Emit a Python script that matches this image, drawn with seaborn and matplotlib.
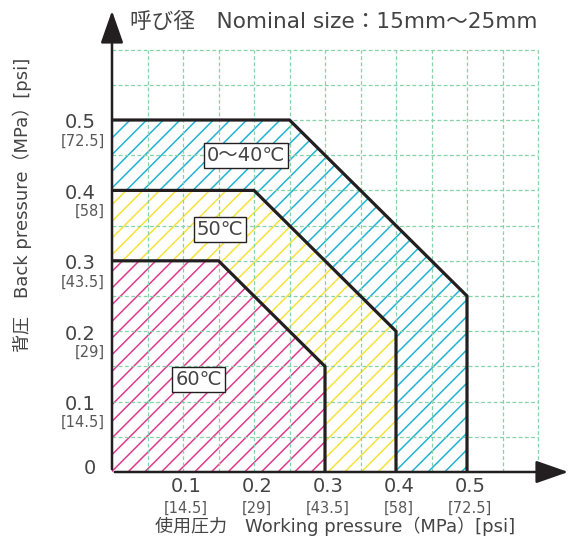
import matplotlib
matplotlib.use("Agg")
import matplotlib.pyplot as plt
import seaborn as sns
import numpy as np
import pandas as pd

# ---- data ----
regions = ["0～40℃", "50℃", "60℃"]
max_back = [0.5, 0.4, 0.3]      # MPa, top edge (back pressure)
knee_work = [0.25, 0.2, 0.15]   # working pressure where top edge ends
knee_back = [0.25, 0.2, 0.15]   # back pressure at right edge top
max_work = [0.5, 0.4, 0.3]      # MPa, right edge (working pressure)
label_x = [0.189, 0.152, 0.122]
label_y = [0.450, 0.345, 0.131]
hatch_colors = ["#22b3d3", "#f6e33a", "#e03a8f"]

tick_vals = [0.1, 0.2, 0.3, 0.4, 0.5]
tick_mpa = ["0.1", "0.2", "0.3", "0.4", "0.5"]
tick_psi = ["[14.5]", "[29]", "[43.5]", "[58]", "[72.5]"]

title = "呼び径　Nominal size：15mm～25mm"
xlabel = "使用圧力　Working pressure（MPa）[psi]"
ylabel = "背圧　Back pressure（MPa）[psi]"

# ---- style ----
sns.set_theme(style="white")
plt.rcParams["font.family"] = ["DejaVu Sans", "Noto Sans CJK JP"]
plt.rcParams["hatch.linewidth"] = 1.1
TXT = "#444444"
SUB = "#585858"
LINE = "#231f20"

fig = plt.figure(figsize=(5.73, 5.45), dpi=100)
W, H = 573, 545
x0, y0 = 112, 472
pxx, pxy = 710.0, 704.0  # pixels per 1 MPa
ax = fig.add_axes([x0 / W, (H - y0) / H, (W - x0) / W, y0 / H])
ax.set_xlim(0, (W - x0) / pxx)
ax.set_ylim(0, y0 / pxy)
ax.axis("off")

# regions (largest first)
for i in range(len(regions)):
    xs = [0, 0, knee_work[i], max_work[i], max_work[i]]
    ys = [0, max_back[i], max_back[i], knee_back[i], 0]
    ax.fill(xs, ys, facecolor="white", edgecolor=hatch_colors[i],
            hatch="//", linewidth=0, zorder=1)

# grid
grid = np.arange(0.05, 0.6001, 0.05)
ax.vlines(grid, 0, 0.6, colors="#86d2a6", linestyles=(0, (3, 2)), lw=0.9, zorder=2)
ax.hlines(grid, 0, 0.6, colors="#86d2a6", linestyles=(0, (3, 2)), lw=0.9, zorder=2)

# outlines
for i in range(len(regions)):
    df = pd.DataFrame({"x": [0, knee_work[i], max_work[i], max_work[i]],
                       "y": [max_back[i], max_back[i], knee_back[i], 0]})
    sns.lineplot(data=df, x="x", y="y", sort=False, estimator=None,
                 color=LINE, lw=2.3, ax=ax, zorder=3)
    ax.text(label_x[i], label_y[i], regions[i], fontsize=14, color=TXT,
            ha="center", va="center", zorder=5,
            bbox=dict(boxstyle="square,pad=0.15", fc="white", ec=LINE, lw=1.0))
ax.set_xlabel("")
ax.set_ylabel("")

# axes with arrows
ax.annotate("", xy=((571 - x0) / pxx, 0), xytext=(0, 0),
            arrowprops=dict(arrowstyle="-|>,head_length=1.0,head_width=0.35",
                            color=LINE, lw=1.8, mutation_scale=20),
            annotation_clip=False, zorder=6)
ax.annotate("", xy=(0, (y0 - 8) / pxy), xytext=(0, 0),
            arrowprops=dict(arrowstyle="-|>,head_length=1.0,head_width=0.35",
                            color=LINE, lw=1.8, mutation_scale=20),
            annotation_clip=False, zorder=6)

# tick labels
for v, m, p in zip(tick_vals, tick_mpa, tick_psi):
    ax.text(v + 3 / pxx, -15 / pxy, m, fontsize=14, color=TXT, ha="center", va="center", clip_on=False)
    ax.text(v + 3 / pxx, -36 / pxy, p, fontsize=10.5, color=SUB, ha="center", va="center", clip_on=False)
    ax.text(-16 / pxx, v - 3 / pxy, m, fontsize=14, color=TXT, ha="right", va="center", clip_on=False)
    ax.text(-7 / pxx, v - 21 / pxy, p, fontsize=10.5, color=SUB, ha="right", va="center", clip_on=False)
ax.text(-16 / pxx, 4 / pxy, "0", fontsize=14, color=TXT, ha="right", va="center", clip_on=False)

# titles
ax.text(18 / pxx, (y0 - 22) / pxy, title, fontsize=15.6, color=TXT, ha="left", va="center", clip_on=False)
ax.text((335 - x0) / pxx, -(526 - y0) / pxy, xlabel, fontsize=13, color=TXT,
        ha="center", va="center", clip_on=False)
ax.text(-(112 - 22) / pxx, (y0 - 205) / pxy, ylabel, fontsize=13, color=TXT,
        ha="center", va="center", rotation=90, clip_on=False)

fig.savefig("out.png", dpi=100)
